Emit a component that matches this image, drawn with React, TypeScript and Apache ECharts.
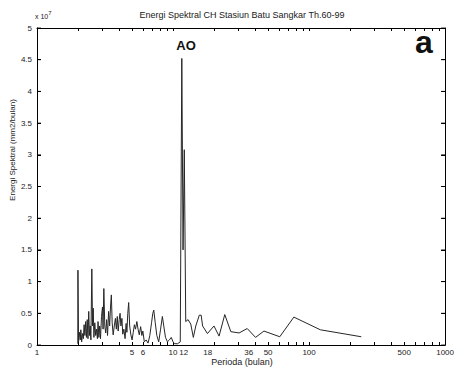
import React, { useEffect, useRef } from "react";
import * as echarts from "echarts";

// Period (months) and spectral energy (x 10^7 mm2/month)
const periods = [
  1.995, 2.0, 2.02, 2.05, 2.08, 2.1, 2.13, 2.16, 2.19, 2.22, 2.25, 2.28, 2.31, 2.34, 2.37,
  2.4, 2.43, 2.46, 2.49, 2.53, 2.56, 2.59, 2.62, 2.66, 2.7, 2.74, 2.78, 2.81, 2.85, 2.89,
  2.93, 2.98, 3.03, 3.06, 3.1, 3.15, 3.2, 3.25, 3.3, 3.36, 3.42, 3.47, 3.52, 3.57, 3.63,
  3.7, 3.77, 3.83, 3.89, 3.95, 4.02, 4.08, 4.14, 4.21, 4.27, 4.35, 4.44, 4.52, 4.58, 4.65,
  4.72, 4.8, 4.9, 5.0, 5.1, 5.2, 5.3, 5.42, 5.53, 5.65, 5.78, 5.9, 6.0, 6.15, 6.35,
  6.55, 6.75, 6.95, 7.1, 7.22, 7.4, 7.6, 7.85, 8.1, 8.35, 8.55, 8.8, 9.1, 9.4, 9.7,
  10.0, 10.3, 10.8, 11.3, 11.6, 11.85, 12.1, 12.4, 12.9, 13.5, 14.1, 14.7, 15.6, 16.1,
  16.5, 17.9, 20.0, 21.8, 24.0, 26.6, 30.6, 35.1, 40.4, 46.6, 60.9, 77.3, 121, 242,
];
const energy = [
  0.02, 1.18, 0.05, 0.2, 0.08, 0.24, 0.05, 0.18, 0.1, 0.32, 0.15, 0.37, 0.12, 0.4, 0.1,
  0.53, 0.15, 0.3, 0.08, 1.2, 0.3, 0.58, 0.12, 0.35, 0.15, 0.25, 0.1, 0.37, 0.12, 0.3,
  0.1, 0.45, 0.6, 0.25, 0.89, 0.3, 0.19, 0.4, 0.15, 0.53, 0.3, 0.6, 0.79, 0.35, 0.16,
  0.3, 0.42, 0.25, 0.45, 0.22, 0.4, 0.5, 0.3, 0.42, 0.17, 0.25, 0.1, 0.34, 0.2, 0.5,
  0.67, 0.3, 0.16, 0.08, 0.2, 0.32, 0.25, 0.37, 0.25, 0.16, 0.29, 0.15, 0.22, 0.05, 0.08,
  0.03, 0.15, 0.35, 0.5, 0.55, 0.35, 0.15, 0.05, 0.25, 0.45, 0.3, 0.12, 0.05, 0.08, 0.12,
  0.05, 0.02, 0.02, 0.05, 4.52, 1.5, 3.08, 0.37, 0.4, 0.33, 0.12, 0.3, 0.47, 0.47,
  0.3, 0.18, 0.3, 0.14, 0.48, 0.21, 0.19, 0.26, 0.12, 0.22, 0.13, 0.44, 0.24, 0.13,
];

const xLabelValues = [1, 5, 6, 10, 12, 18, 36, 50, 100, 500, 1000];
const xTickValues = [
  1, 2, 3, 4, 5, 6, 7, 8, 9, 10, 20, 30, 40, 50, 60, 70, 80, 90, 100,
  200, 300, 400, 500, 600, 700, 800, 900, 1000,
];
const yTickValues = [0, 0.5, 1, 1.5, 2, 2.5, 3, 3.5, 4, 4.5, 5];
const xMin = 1;
const xMax = 1000;
const yMin = 0;
const yMax = 5;
const yStep = 0.5;

const titleText = "Energi Spektral CH Stasiun Batu Sangkar Th.60-99";
const xName = "Perioda (bulan)";
const yName = "Energi Spektral (mm2/bulan)";
const peakLabel = "AO";
const panelLabel = "a";

const FONT = "Arial, 'Liberation Sans', sans-serif";
const INK = "#1a1a1a";

export default function App() {
  const ref = useRef<HTMLDivElement>(null);
  useEffect(() => {
    const chart = echarts.init(ref.current!, null, { renderer: "svg" });
    const data = periods.map((p, i) => [p, energy[i]]);
    const axisLine = { show: true, onZero: false, lineStyle: { color: "#000", width: 1 } };
    const tickStyle = { color: "#000", width: 1 };
    chart.setOption({
      animation: false,
      backgroundColor: "#fff",
      grid: { left: 37, right: 10, top: 28, bottom: 30, containLabel: false },
      xAxis: [
        {
          type: "log",
          logBase: 10,
          min: xMin,
          max: xMax,
          position: "bottom",
          axisLine,
          splitLine: { show: false },
          axisTick: { show: true, inside: true, length: 3, customValues: xTickValues, lineStyle: tickStyle },
          minorTick: { show: false },
          axisLabel: {
            customValues: xLabelValues,
            formatter: (v: number) => String(Math.round(v)),
            margin: 3,
            fontSize: 8,
            fontFamily: FONT,
            color: INK,
            hideOverlap: false,
            showMinLabel: true,
            showMaxLabel: true,
          },
        },
        {
          type: "log",
          logBase: 10,
          min: xMin,
          max: xMax,
          position: "top",
          axisLine,
          splitLine: { show: false },
          axisTick: { show: true, inside: true, length: 3, customValues: xTickValues, lineStyle: tickStyle },
          axisLabel: { show: false },
        },
      ],
      yAxis: [
        {
          type: "value",
          min: yMin,
          max: yMax,
          interval: yStep,
          position: "left",
          axisLine,
          splitLine: { show: false },
          axisTick: { show: true, inside: true, length: 4, lineStyle: tickStyle },
          axisLabel: { margin: 5, fontSize: 8, fontFamily: FONT, color: INK },
        },
        {
          type: "value",
          min: yMin,
          max: yMax,
          interval: yStep,
          position: "right",
          axisLine,
          splitLine: { show: false },
          axisTick: { show: true, inside: true, length: 4, lineStyle: tickStyle },
          axisLabel: { show: false },
        },
      ],
      series: [
        {
          type: "line",
          data,
          xAxisIndex: 0,
          yAxisIndex: 0,
          showSymbol: false,
          symbol: "none",
          lineStyle: { color: "#262626", width: 1 },
          clip: true,
          z: 3,
        },
        {
          type: "scatter",
          name: "yTicksLeft",
          data: yTickValues.map((v) => [xMin, v]),
          symbol: "rect",
          symbolSize: [4, 1],
          symbolOffset: [2, 0],
          itemStyle: { color: "#000" },
          clip: false,
          silent: true,
          z: 4,
        },
        {
          type: "scatter",
          name: "yTicksRight",
          data: yTickValues.map((v) => [xMax, v]),
          symbol: "rect",
          symbolSize: [4, 1],
          symbolOffset: [-2, 0],
          itemStyle: { color: "#000" },
          clip: false,
          silent: true,
          z: 4,
        },
      ],
      graphic: [
        {
          type: "text",
          x: 242,
          y: 15,
          style: {
            text: titleText,
            fontSize: 9,
            fontFamily: FONT,
            fill: INK,
            align: "center",
            verticalAlign: "middle",
          },
        },
        {
          type: "text",
          x: 35,
          y: 20,
          style: {
            text: "{a|x 10}{b|7}",
            fontFamily: FONT,
            fill: INK,
            verticalAlign: "bottom",
            rich: {
              a: { fontSize: 7, fontFamily: FONT, fill: INK, verticalAlign: "bottom" },
              b: { fontSize: 6, fontFamily: FONT, fill: INK, verticalAlign: "top", padding: [0, 0, 4, 0] },
            },
          },
        },
        {
          type: "text",
          x: 242,
          y: 362,
          style: {
            text: xName,
            fontSize: 9,
            fontFamily: FONT,
            fill: INK,
            align: "center",
            verticalAlign: "middle",
          },
        },
        {
          type: "text",
          x: 12,
          y: 150,
          rotation: Math.PI / 2,
          style: {
            text: yName,
            fontSize: 8,
            fontFamily: FONT,
            fill: "#1a1a1a",
            align: "center",
            verticalAlign: "middle",
          },
        },
        {
          type: "text",
          x: 186,
          y: 45,
          style: {
            text: peakLabel,
            fontSize: 13,
            fontWeight: "bold",
            fontFamily: FONT,
            fill: "#111",
            align: "center",
            verticalAlign: "middle",
          },
        },
        {
          type: "text",
          x: 424,
          y: 42,
          style: {
            text: panelLabel,
            fontSize: 32,
            fontWeight: "bold",
            fontFamily: FONT,
            fill: "#111",
            align: "center",
            verticalAlign: "middle",
          },
        },
      ],
    });
    return () => chart.dispose();
  }, []);
  return (
    <div
      ref={ref}
      style={{ position: "absolute", left: 0, top: 0, width: 457, height: 375 }}
    />
  );
}
